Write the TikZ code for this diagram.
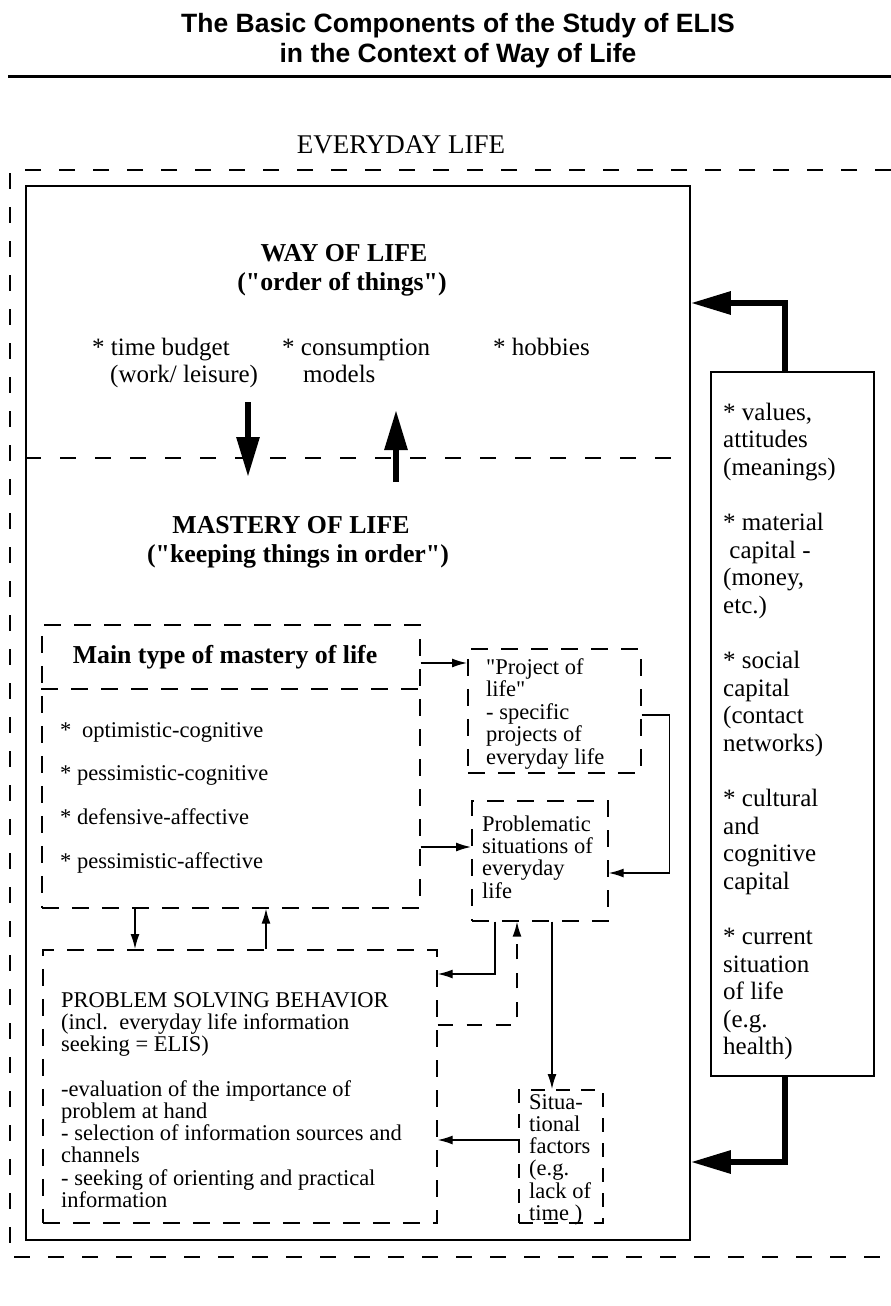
\documentclass[tikz,border=0pt]{standalone}
\usepackage{fontspec}
\setmainfont{Liberation Serif}[Ligatures=TeXOff]
\newfontfamily\titlesans{Liberation Sans}
\usetikzlibrary{arrows.meta}
\newcommand{\fs}[2]{\fontsize{#1}{#2}\selectfont}
\newcommand{\tlines}[1]{\begin{tabular}[t]{@{}l@{}}#1\end{tabular}}
\newcommand{\dq}{\symbol{34}}
\begin{document}
\begin{tikzpicture}[x=1pt,y=-1pt,
  dbox/.style={draw, line width=1.7pt, dash pattern=on 17pt off 13pt, inner sep=0pt, anchor=north west},
  sbox/.style={draw, line width=1.8pt, inner sep=0pt, anchor=north west},
  outer/.style={draw, line width=1.7pt, dash pattern=on 16pt off 18pt},
  midline/.style={draw, line width=1.5pt, dash pattern=on 16pt off 19pt},
  txt/.style={inner sep=0pt, anchor=base west, font=\fs{22.5}{22.3}},
  item/.style={inner sep=0pt, anchor=base west, font=\fs{25}{27}},
  head/.style={inner sep=0pt, anchor=base, font=\fs{25.8}{28}\bfseries},
  conn/.style={line width=1.4pt, -{Latex[length=15pt,width=9pt]}},
  dconn/.style={line width=1.5pt, dash pattern=on 15pt off 14pt, -{Latex[length=15pt,width=9pt]}},
  fat/.style={line width=6pt, line join=miter, -{Triangle[length=40pt,width=22pt]}}
]
\useasboundingbox (0,0) rectangle (891,1306);

% title and rule
\node[anchor=base, inner sep=0pt, font=\titlesans\bfseries\fs{26.5}{30}] (title1) at (458,33) {The Basic Components of the Study of ELIS};
\node[anchor=base, inner sep=0pt, font=\titlesans\bfseries\fs{26.5}{30}] (title2) at (458,63) {in the Context of Way of Life};
\coordinate (ruleL) at (8,76);
\coordinate (ruleR) at (891,76);
\draw[line width=3pt] (ruleL) -- (ruleR);

% everyday life frame
\node[anchor=base, inner sep=0pt, font=\fs{27}{30}] (everyday) at (401,153) {EVERYDAY LIFE};
\coordinate (elTR) at (891,170);
\coordinate (elTL) at (10,170);
\coordinate (elBL) at (10,1257);
\coordinate (elBR) at (891,1257);
\draw[outer] (elTR) -- (elTL) -- (elBL) -- (elBR);

% way of life / mastery of life frame
\node[sbox, minimum width=664pt, minimum height=1054pt] (life) at (25,185) {};
\draw[midline] ([yshift=-273pt]life.north west) -- ([yshift=-273pt]life.north east);

\node[head] (way) at (344,261.5) {WAY OF LIFE};
\node[head] (wayq) at (342,290) {(\dq order of things\dq)};
\node[item] (tb) at (92,355) {\tlines{* time budget\\\hspace{18pt}(work/ leisure)}};
\node[item] (cm) at (282,355) {\tlines{* consumption\\\hspace{21pt}models}};
\node[item] (hb) at (493,355) {* hobbies};

\coordinate (wdA) at (248,402);
\coordinate (wdB) at (248,477);
\coordinate (wuA) at (396,482);
\coordinate (wuB) at (396,410);
\draw[fat] (wdA) -- (wdB);
\draw[fat] (wuA) -- (wuB);

\node[head] (mol) at (291,533) {MASTERY OF LIFE};
\node[head] (molq) at (298,562) {(\dq keeping things in order\dq)};

% main type of mastery of life
\node[dbox, minimum width=378pt, minimum height=283pt] (mt) at (41,624) {};
\draw[line width=1.7pt, dash pattern=on 17pt off 13pt] ([yshift=-65pt]mt.north west) -- ([yshift=-65pt]mt.north east);
\node[head] (mthdr) at (225,663) {Main type of mastery of life};
\node[txt] (t1) at (60,737) {\makebox[22pt][l]{*}optimistic-cognitive};
\node[txt] (t2) at (60,780) {\makebox[17pt][l]{*}pessimistic-cognitive};
\node[txt] (t3) at (60,824) {\makebox[17pt][l]{*}defensive-affective};
\node[txt] (t4) at (60,868) {\makebox[17pt][l]{*}pessimistic-affective};

% project of life
\node[dbox, minimum width=173pt, minimum height=124pt] (proj) at (467,648) {};
\node[txt] (projt) at (486,674) {\tlines{\dq Project of\\life\dq\\- specific\\projects of\\everyday life}};

% problematic situations
\node[dbox, minimum width=136pt, minimum height=120pt] (prob) at (471,800) {};
\node[txt] (probt) at (482,831) {\tlines{Problematic\\situations of\\everyday\\life}};

% problem solving behaviour
\node[dbox, minimum width=394pt, minimum height=273pt] (psb) at (42,949) {};
\node[txt, font=\fs{22.5}{22}] (psbt) at (61,1007) {\tlines{PROBLEM SOLVING BEHAVIOR\\(incl.\ \ everyday life information\\seeking = ELIS)\\ \\-evaluation of the importance of\\problem at hand\\- selection of information sources and\\channels\\- seeking of orienting and practical\\information}};

% situational factors
\node[dbox, minimum width=84pt, minimum height=133pt, dash pattern=on 14pt off 11pt] (sit) at (518,1089) {};
\node[txt, font=\fs{22.5}{21.8}] (sitt) at (529,1109) {\tlines{Situa-\\tional\\factors\\(e.g.\\lack of\\time )}};

% resources
\node[sbox, minimum width=163pt, minimum height=704pt] (res) at (710,371) {};
\node[item, font=\fs{25}{27.6}] (rest) at (723,420) {\tlines{{*} values,\\attitudes\\(meanings)\\ \\{*} material\\\ capital -\\(money,\\etc.)\\ \\{*} social\\capital\\(contact\\networks)\\ \\{*} cultural\\and\\cognitive\\capital\\ \\{*} current\\situation\\of life\\(e.g.\\health)}};

% connectors
\draw[conn] ([yshift=-39pt]mt.north east) -- ([yshift=-15pt]proj.north west);
\draw[conn] ([yshift=-223pt]mt.north east) -- ([yshift=-47pt]prob.north west);
\draw[conn] ([yshift=-67pt]proj.north east) -- ++(28pt,0) |- ([yshift=-73pt]prob.north east);
\draw[conn] ([xshift=94pt]mt.south west) -- ([xshift=93pt]psb.north west);
\draw[conn] ([xshift=224pt]psb.north west) -- ([xshift=225pt]mt.south west);
\draw[conn] ([xshift=24pt]prob.south west) |- ([yshift=-25pt]psb.north east);
\draw[dconn] ([yshift=-76pt]psb.north east) -| ([xshift=46pt]prob.south west);
\draw[conn] ([xshift=81pt]prob.south west) -- ([xshift=34pt]sit.north west);
\draw[conn] ([yshift=-51pt]sit.north west) -- ([yshift=-191pt]psb.north east);
\draw[fat] ([xshift=75pt]res.north west) |- ([yshift=-118pt]life.north east);
\draw[fat] ([xshift=75pt]res.south west) |- ([yshift=-977pt]life.north east);
\end{tikzpicture}
\end{document}
